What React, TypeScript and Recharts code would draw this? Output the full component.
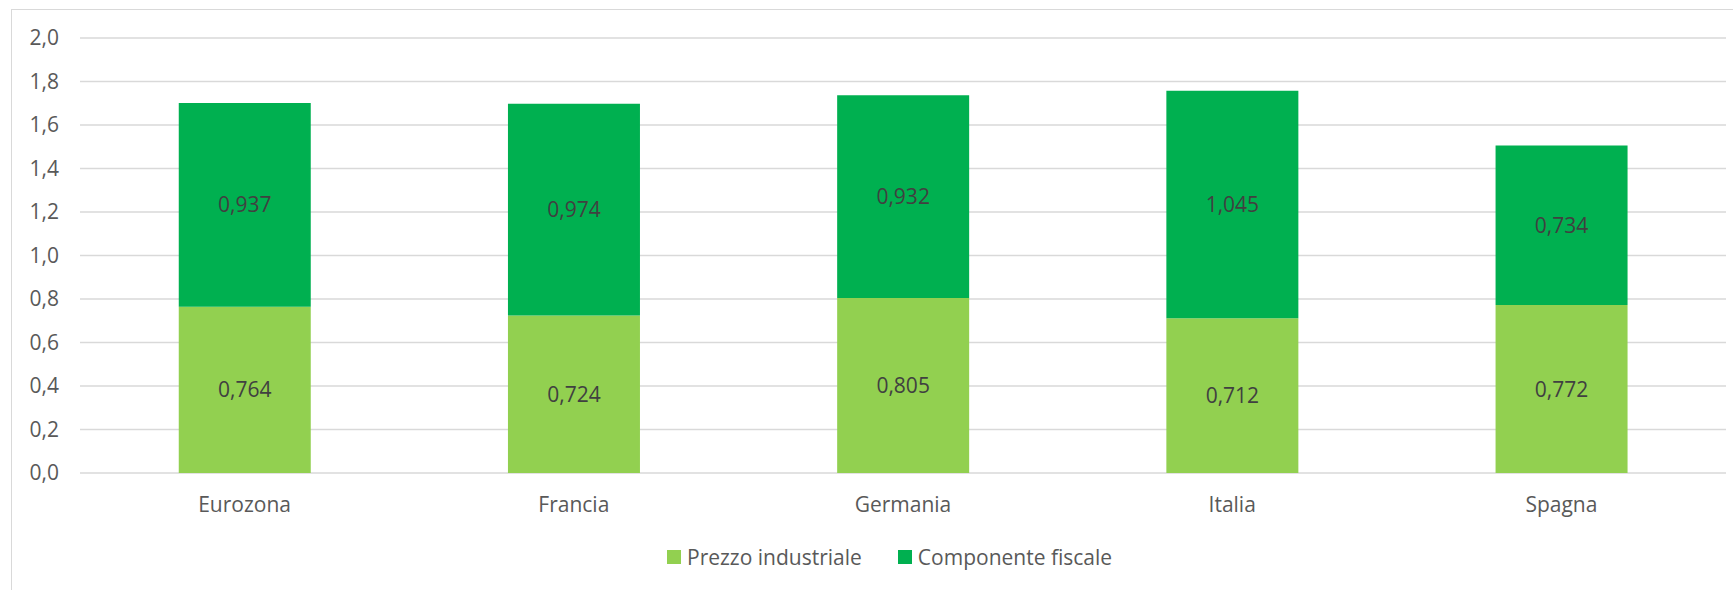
import React from 'react';
import { BarChart, Bar, XAxis, YAxis, CartesianGrid, LabelList } from 'recharts';

const categories = ['Eurozona', 'Francia', 'Germania', 'Italia', 'Spagna'];
const prezzoIndustriale = [0.764, 0.724, 0.805, 0.712, 0.772];
const componenteFiscale = [0.937, 0.974, 0.932, 1.045, 0.734];
const yTicks = [0, 0.2, 0.4, 0.6, 0.8, 1.0, 1.2, 1.4, 1.6, 1.8, 2.0];

const LIGHT = '#92D050';
const DARK = '#00B050';
const FONT = '"Open Sans", "Noto Sans", sans-serif';

const series = [
    { key: 'prezzo', name: 'Prezzo industriale', color: LIGHT },
    { key: 'fiscale', name: 'Componente fiscale', color: DARK },
];

const data = categories.map((name, i) => ({
    name,
    prezzo: prezzoIndustriale[i],
    fiscale: componenteFiscale[i],
}));

const fmt3 = (v: any) => Number(v).toFixed(3).replace('.', ',');
const fmt1 = (v: any) => Number(v).toFixed(1).replace('.', ',');

export default function App() {
    return (
        <div style={{ position: 'absolute', left: 0, top: 0, width: 1733, height: 590, overflow: 'hidden', background: '#fff' }}>
            <div style={{ position: 'absolute', left: 11, top: 9, width: 1740, height: 620, border: '1.5px solid #d9d9d9' }} />
            <div style={{ position: 'absolute', left: 0, top: 0 }}>
                <BarChart width={1733} height={590} data={data} margin={{ top: 38, right: 7, left: 0, bottom: 87 }} barCategoryGap="30%">
                    <CartesianGrid horizontal vertical={false} stroke="#d9d9d9" strokeWidth={1.5} />
                    <XAxis
                        dataKey="name"
                        height={30}
                        axisLine={false}
                        tickLine={false}
                        tickMargin={18}
                        tick={{ fill: '#595959', fontSize: 21, fontFamily: FONT }}
                    />
                    <YAxis
                        width={80}
                        domain={[0, 2]}
                        ticks={yTicks}
                        tickFormatter={fmt1}
                        axisLine={false}
                        tickLine={false}
                        tickMargin={15}
                        tick={{ fill: '#595959', fontSize: 21, fontFamily: FONT }}
                    />
                    {series.map((s) => (
                        <Bar key={s.key} dataKey={s.key} name={s.name} stackId="a" fill={s.color} isAnimationActive={false}>
                            <LabelList dataKey={s.key} position="center" formatter={fmt3} fill="#404040" fontSize={21} fontFamily={FONT} />
                        </Bar>
                    ))}
                </BarChart>
            </div>
            {/* legend */}
            <div style={{ position: 'absolute', left: 667, top: 543, display: 'flex', alignItems: 'center', fontFamily: FONT }}>
                {series.map((s, i) => (
                    <div key={s.key} style={{ display: 'flex', alignItems: 'center', marginRight: i === 0 ? 36 : 0 }}>
                        <span style={{ width: 14, height: 14, background: s.color, display: 'inline-block', marginRight: 6 }} />
                        <span style={{ color: '#595959', fontSize: 21 }}>{s.name}</span>
                    </div>
                ))}
            </div>
        </div>
    );
}
